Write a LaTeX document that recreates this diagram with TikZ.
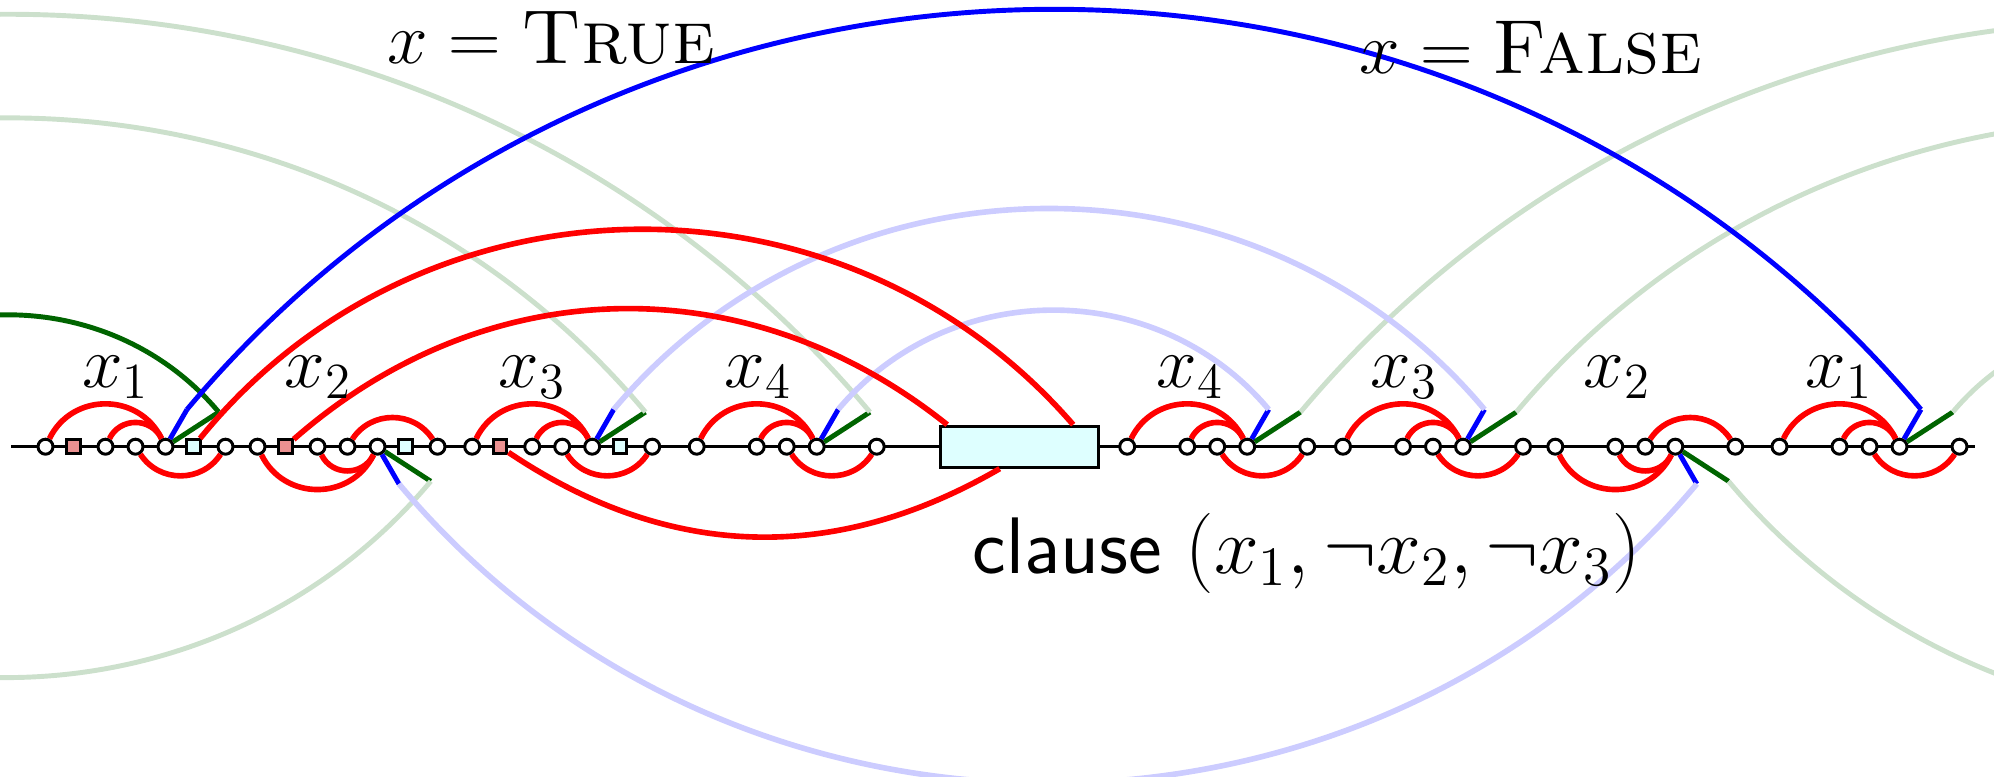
\documentclass[tikz,border=0pt]{standalone}
\usepackage{amsmath,amssymb}
\usepackage{tikz}
\usetikzlibrary{arrows.meta}

\definecolor{dkgreen}{RGB}{0,100,0}
\definecolor{sqred}{RGB}{235,145,145}
\definecolor{sqcyan}{RGB}{222,255,255}

\begin{document}
\begin{tikzpicture}[
vert/.style={circle,draw,fill=white,line width=0.85pt,inner sep=0pt,minimum size=0.15cm},
redsq/.style={rectangle,draw,fill=sqred,line width=0.85pt,inner sep=0pt,minimum size=0.135cm},
cyansq/.style={rectangle,draw,fill=sqcyan,line width=0.85pt,inner sep=0pt,minimum size=0.135cm},
clausebox/.style={rectangle,draw,fill=sqcyan,line width=0.85pt,inner sep=0pt,minimum width=1.58cm,minimum height=0.41cm},
varlabel/.style={font=\fontsize{21.5}{26}\selectfont,anchor=base,inner sep=0pt},
redarc/.style={red,line width=1.6pt},
bluearc/.style={blue,line width=1.4pt},
greenarc/.style={dkgreen,line width=1.4pt},
paleblue/.style={blue!20,line width=1.6pt},
palegreen/.style={dkgreen!20,line width=1.4pt},
arcup/.style={bend left=50,looseness=1.03},
arcdown/.style={bend right=50,looseness=1.03}
]

\useasboundingbox (0,-3.303) rectangle (19.94,4.467);
\clip (0,-3.303) rectangle (19.94,4.467);

% the spine
\coordinate (west) at (0.11,0);
\coordinate (east) at (19.75,0);
\draw[line width=0.85pt] (west) -- (east);

% variable gadgets, s=-1 for the flipped ones
\foreach \g/\x/\s [evaluate=\s as \ao using 64*\s, evaluate=\s as \ai using 180-64*\s,
  evaluate=\s as \bo using -57*\s, evaluate=\s as \bi using 180+57*\s,
  evaluate=\s as \ba using 60*\s, evaluate=\s as \ga using 33*\s] in
  {L1/0.455/1,L2/2.575/-1,L3/4.722/1,L4/6.967/1,R4/11.272/1,R3/13.43/1,R2/15.553/-1,R1/17.795/1}{
  \node[vert] (\g-1) at (\x,0) {};
  \node[vert] (\g-2) at (\x+0.6,0) {};
  \node[vert] (\g-3) at (\x+0.9,0) {};
  \node[vert] (\g-h) at (\x+1.2,0) {};
  \node[vert] (\g-5) at (\x+1.8,0) {};
  \draw[redarc] (\g-1) to[out=\ao,in=\ai,relative,looseness=1.18] (\g-h);
  \draw[redarc] (\g-2) to[out=\ao,in=\ai,relative,looseness=1.18] (\g-h);
  \draw[redarc] (\g-3) to[out=\bo,in=\bi,relative,looseness=1.1] (\g-5);
  \coordinate (\g-bl) at ([shift={(\ba:0.43)}]\g-h.center);
  \coordinate (\g-gr) at ([shift={(\ga:0.635)}]\g-h.center);
  \draw[greenarc] (\g-h) -- (\g-gr);
  \draw[bluearc] (\g-h) -- (\g-bl);
}

\foreach \g/\x in {L1/0.455,L2/2.575,L3/4.722}{
  \node[redsq] (\g-r) at (\x+0.28,0) {};
  \node[cyansq] (\g-c) at (\x+1.48,0) {};
}

% far ends outside the window
\coordinate (fL1) at (-2.028,0.346);
\coordinate (fL2) at (-4.2,-0.346);
\coordinate (fL3) at (-6.295,0.346);
\coordinate (fL4) at (-8.54,0.346);
\coordinate (fR1) at (23.472,0.346);
\coordinate (fR2) at (27.7,-0.346);
\coordinate (fR3) at (27.837,0.346);
\coordinate (fR4) at (29.995,0.346);

\draw[palegreen] (fL2) to[arcdown] (L2-gr);
\draw[palegreen] (fL3) to[arcup] (L3-gr);
\draw[palegreen] (fL4) to[arcup] (L4-gr);
\draw[palegreen] (R4-gr) to[arcup] (fR4);
\draw[palegreen] (R3-gr) to[arcup] (fR3);
\draw[palegreen] (R2-gr) to[arcdown] (fR2);
\draw[palegreen] (R1-gr) to[arcup] (fR1);
\draw[paleblue] (L4-bl) to[arcup] (R4-bl);
\draw[paleblue] (L3-bl) to[arcup] (R3-bl);
\draw[paleblue] (L2-bl) to[arcdown] (R2-bl);

\draw[greenarc] (fL1) to[arcup] (L1-gr);
\draw[bluearc] (L1-bl) to[arcup] (R1-bl);

% clause
\node[clausebox] (clause) at (10.197,0) {};
\draw[redarc] (L1-c) to[bend left=50,looseness=1.03] ([xshift=-0.27cm]clause.north east);
\draw[redarc] (L2-r) to[bend left=40] ([xshift=0.08cm]clause.north west);
\draw[redarc] (L3-r) to[bend right=32] ([xshift=-0.2cm]clause.south);

\node[varlabel] (lx1) at (1.158,0.592) {$x_1$};
\node[varlabel] (lx2) at (3.18,0.592) {$x_2$};
\node[varlabel] (lx3) at (5.32,0.592) {$x_3$};
\node[varlabel] (lx4) at (7.58,0.592) {$x_4$};
\node[varlabel] (rx4) at (11.9,0.592) {$x_4$};
\node[varlabel] (rx3) at (14.04,0.592) {$x_3$};
\node[varlabel] (rx2) at (16.17,0.592) {$x_2$};
\node[varlabel] (rx1) at (18.39,0.592) {$x_1$};

\node[varlabel,font=\fontsize{21.8}{26}\selectfont] (true) at (5.516,3.834) {$x=\textsc{True}$};
\node[varlabel,font=\fontsize{21.8}{26}\selectfont] (false) at (15.31,3.734) {$x=\textsc{False}$};
\node[font=\huge,scale=1.1,transform shape,anchor=base west,inner sep=0pt] (cname) at (9.72,-1.266) {\textsf{clause} $(x_1,\neg x_2,\neg x_3)$};

\end{tikzpicture}
\end{document}
